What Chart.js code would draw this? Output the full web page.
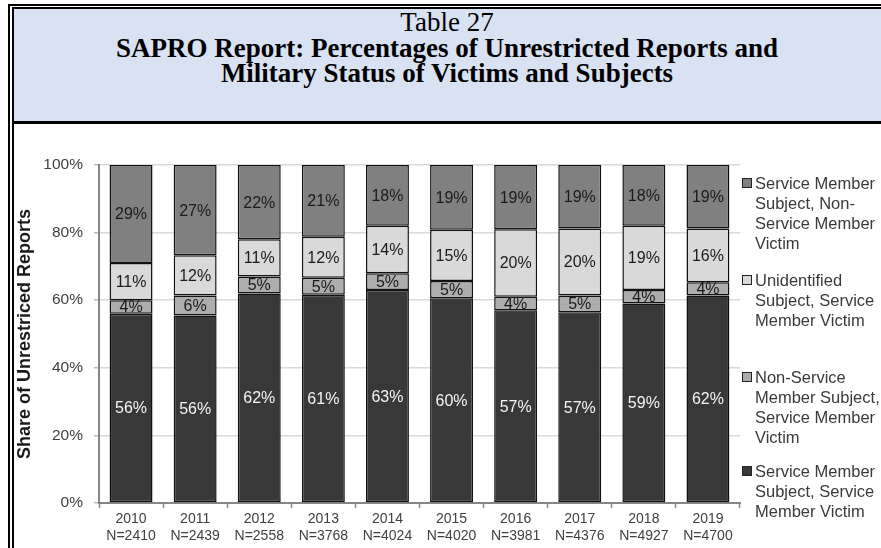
<!DOCTYPE html>
<html>
<head>
<meta charset="utf-8">
<script src="https://cdn.jsdelivr.net/npm/chart.js@4.4.1/dist/chart.umd.min.js"></script>
<style>
    body { margin: 0; background: #fff; }
    #page { position: relative; width: 881px; height: 548px; overflow: hidden; background: #fff; }
    .line { position: absolute; background: #000; }
    #titleBox { position: absolute; left: 14px; top: 9px; width: 867px; height: 112px; background: #d9e2f3; }
    #title { position: absolute; left: 14px; top: 10px; width: 866px; text-align: center;
        font-family: "Liberation Serif", "Times New Roman", serif; font-size: 27px; line-height: 25.5px; color: #000; }
    #title b { font-weight: bold; }
    #chartCanvas { position: absolute; left: 14px; top: 124px; }
    .legItem { position: absolute; left: 742px; }
    .legBox { position: absolute; left: 0; width: 8px; height: 8px; border: 1px solid #222; }
    .legText { position: absolute; left: 13px; top: 0; white-space: pre; font-family: "Liberation Sans", Arial, sans-serif;
        font-size: 16.5px; line-height: 20px; color: #3a3a3a; }
</style>
</head>
<body>
<div id="page">
    <div id="titleBox"></div>
    <div class="line" style="left:8px;top:4px;width:873px;height:2px"></div>
    <div class="line" style="left:8px;top:4px;width:2px;height:544px"></div>
    <div class="line" style="left:12px;top:7px;width:869px;height:2px"></div>
    <div class="line" style="left:12px;top:7px;width:2px;height:541px"></div>
    <div class="line" style="left:12px;top:121px;width:869px;height:3px"></div>
    <div id="title">Table 27<br><b>SAPRO Report: Percentages of Unrestricted Reports and<br>Military Status of Victims and Subjects</b></div>
    <canvas id="chartCanvas" width="867" height="424"></canvas>
    <div id="legend"></div>
</div>
<script>
    // values (percent of unrestricted reports)
    var years = ['2010', '2011', '2012', '2013', '2014', '2015', '2016', '2017', '2018', '2019'];
    var reportCounts = ['2410', '2439', '2558', '3768', '4024', '4020', '3981', '4376', '4927', '4700'];

    var smSubjectSmVictim = [56, 56, 62, 61, 63, 60, 57, 57, 59, 62];
    var nonSmSubjectSmVictim = [4, 6, 5, 5, 5, 5, 4, 5, 4, 4];
    var unidentifiedSubjectSmVictim = [11, 12, 11, 12, 14, 15, 20, 20, 19, 16];
    var smSubjectNonSmVictim = [29, 27, 22, 21, 18, 19, 19, 19, 18, 19];

    var seriesNames = [
        'Service Member\nSubject, Service\nMember Victim',
        'Non-Service\nMember Subject,\nService Member\nVictim',
        'Unidentified\nSubject, Service\nMember Victim',
        'Service Member\nSubject, Non-\nService Member\nVictim'
    ];
    var seriesColors = ['#383838', '#adadad', '#d9d9d9', '#808080'];
    var labelColors = ['#f4f4f4', '#1a1a1a', '#1a1a1a', '#1a1a1a'];
    var yTicks = [0, 20, 40, 60, 80, 100];

    var allSeries = [smSubjectSmVictim, nonSmSubjectSmVictim, unidentifiedSubjectSmVictim, smSubjectNonSmVictim];

    // rounded shares do not always add to 100, so stack them as share of their own total
    var totals = years.map(function (y, i) {
        var t = 0;
        allSeries.forEach(function (s) { t += s[i]; });
        return t;
    });

    var datasets = allSeries.map(function (s, k) {
        return {
            label: seriesNames[k],
            data: s.map(function (v, i) { return v / totals[i] * 100; }),
            rawValues: s,
            backgroundColor: seriesColors[k],
            borderColor: '#111',
            borderWidth: 1.5,
            borderSkipped: false,
            barPercentage: 0.67,
            categoryPercentage: 1.0
        };
    });

    var segmentLabels = {
        id: 'segmentLabels',
        afterDatasetsDraw: function (chart) {
            var ctx = chart.ctx;
            ctx.save();
            ctx.font = '16px "Liberation Sans", Arial, sans-serif';
            ctx.textAlign = 'center';
            ctx.textBaseline = 'middle';
            chart.data.datasets.forEach(function (ds, k) {
                var meta = chart.getDatasetMeta(k);
                ctx.fillStyle = labelColors[k];
                meta.data.forEach(function (bar, i) {
                    var p = bar.getProps(['x', 'y', 'base'], true);
                    ctx.fillText(ds.rawValues[i] + '%', p.x, (p.y + p.base) / 2 + 1);
                });
            });
            ctx.restore();
        }
    };

    var ctx = document.getElementById('chartCanvas').getContext('2d');
    new Chart(ctx, {
        type: 'bar',
        data: {
            labels: years.map(function (y, i) { return [y, 'N=' + reportCounts[i]]; }),
            datasets: datasets
        },
        options: {
            responsive: false,
            animation: false,
            devicePixelRatio: 1,
            layout: { padding: { top: 41, right: 141, left: 0, bottom: 0 } },
            plugins: { legend: { display: false }, tooltip: { enabled: false } },
            scales: {
                x: {
                    stacked: true,
                    afterFit: function (s) { s.height = 45; },
                    grid: { drawOnChartArea: false, offset: true, tickLength: 5, tickColor: '#868686', tickWidth: 1.5 },
                    border: { color: '#868686', width: 2 },
                    ticks: { font: { family: 'Liberation Sans', size: 14 }, color: '#404040', padding: 3, maxRotation: 0 }
                },
                y: {
                    stacked: true,
                    min: 0,
                    max: 100,
                    afterFit: function (s) { s.width = 85; },
                    afterBuildTicks: function (s) { s.ticks = yTicks.map(function (v) { return { value: v }; }); },
                    grid: { color: '#d9d9d9', lineWidth: 1.5, tickLength: 5, tickColor: '#bdbdbd' },
                    border: { color: '#868686', width: 2 },
                    ticks: {
                        font: { family: 'Liberation Sans', size: 15.5 }, color: '#404040', padding: 11,
                        callback: function (v) { return v + '%'; }
                    },
                    title: {
                        display: true, text: 'Share of Unrestriced Reports', padding: 0,
                        font: { family: 'Liberation Sans', size: 18, weight: 'bold' }, color: '#1a1a1a'
                    }
                }
            }
        },
        plugins: [segmentLabels]
    });

    // legend: top series first, like the source
    var legendTops = [173, 270, 367, 461];
    var legend = document.getElementById('legend');
    for (var k = 3, n = 0; k >= 0; k--, n++) {
        var item = document.createElement('div');
        item.className = 'legItem';
        item.style.top = legendTops[n] + 'px';
        item.innerHTML = '<div class="legBox" style="top:5px;background:' + seriesColors[k] + '"></div>' +
            '<div class="legText"></div>';
        item.querySelector('.legText').textContent = seriesNames[k];
        legend.appendChild(item);
    }
</script>
</body>
</html>
